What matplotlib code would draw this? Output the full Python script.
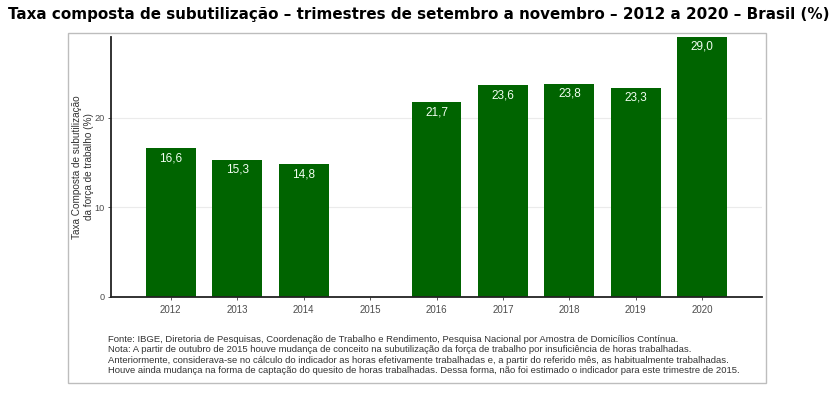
import matplotlib.pyplot as plt
from matplotlib.patches import Rectangle

# dados: taxa composta de subutilizacao, trimestre set-nov
anos = [2012, 2013, 2014, 2015, 2016, 2017, 2018, 2019, 2020]
taxa = [16.6, 15.3, 14.8, None, 21.7, 23.6, 23.8, 23.3, 29.0]
rotulos = ["16,6", "15,3", "14,8", "", "21,7", "23,6", "23,8", "23,3", "29,0"]

titulo = "Taxa composta de subutilização \u2013 trimestres de setembro a novembro \u2013 2012 a 2020 \u2013 Brasil (%)"
ylab = "Taxa Composta de subutilização\nda força de trabalho (%)"
nota = ("Fonte: IBGE, Diretoria de Pesquisas, Coordenação de Trabalho e Rendimento, Pesquisa Nacional por Amostra de Domicílios Contínua.\n"
        "Nota: A partir de outubro de 2015 houve mudança de conceito na subutilização da força de trabalho por insuficiência de horas trabalhadas.\n"
        "Anteriormente, considerava-se no cálculo do indicador as horas efetivamente trabalhadas e, a partir do referido mês, as habitualmente trabalhadas.\n"
        "Houve ainda mudança na forma de captação do quesito de horas trabalhadas. Dessa forma, não foi estimado o indicador para este trimestre de 2015.")

W, H = 838, 393
fig = plt.figure(figsize=(W / 100, H / 100), dpi=100)

# moldura cinza
fig.patches.append(Rectangle((68 / W, 1 - 383 / H), (766 - 68) / W, (383 - 33) / H,
                             transform=fig.transFigure, fill=False,
                             edgecolor="#bdbdbd", linewidth=1))

fig.text(0.5, 1 - 15 / H, titulo, ha="center", va="center",
         fontsize=10.9, fontweight="bold", family="DejaVu Sans", color="black")

ax = fig.add_axes([111 / W, 1 - 297 / H, (762 - 111) / W, (297 - 37) / H])

xs = [a for a, v in zip(anos, taxa) if v is not None]
vs = [v for v in taxa if v is not None]
ax.bar(xs, vs, width=0.75, color="#006400", zorder=2)
for a, v, r in zip(anos, taxa, rotulos):
    if v is not None:
        ax.text(a, v - 1.1, r, ha="center", va="center", color="#f2fff2",
                fontsize=8.5, family="Liberation Sans", zorder=3)

ax.set_xlim(2011.1, 2020.9)
ax.set_ylim(0, 29.0)
ax.set_xticks(anos)
ax.set_xticklabels([str(a) for a in anos])
ax.set_yticks([0, 10, 20])
ax.grid(axis="y", color="#ebebeb", linewidth=0.8, zorder=0)
for s in ["top", "right"]:
    ax.spines[s].set_visible(False)
for s in ["left", "bottom"]:
    ax.spines[s].set_color("#222222")
    ax.spines[s].set_linewidth(1.3)
ax.tick_params(axis="both", colors="#555555", labelsize=7, length=2.5, width=0.7)
ax.tick_params(axis="y", labelsize=6.6, pad=2)
for lab in ax.get_xticklabels() + ax.get_yticklabels():
    lab.set_family("Liberation Sans")
    lab.set_color("#4d4d4d")

fig.text(83 / W, 1 - 167 / H, ylab, rotation=90, ha="center", va="center",
         multialignment="center", fontsize=7.2, family="Liberation Sans",
         color="#333333", linespacing=1.15)

fig.text(108 / W, 1 - 335 / H, nota, ha="left", va="top", fontsize=6.8,
         family="Liberation Sans", color="#333333", linespacing=1.2)

fig.savefig("out.png", dpi=100)
